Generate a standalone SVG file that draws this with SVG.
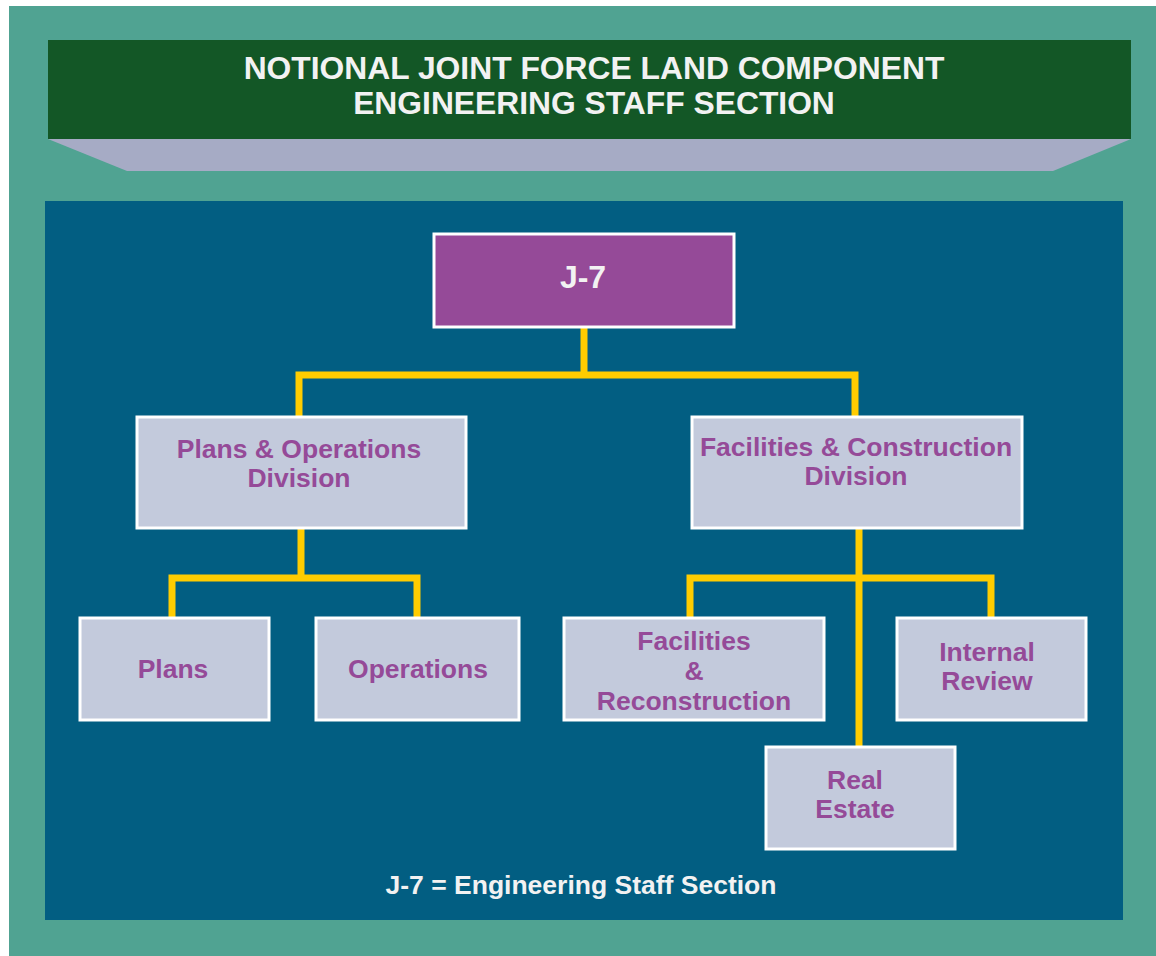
<svg xmlns="http://www.w3.org/2000/svg" width="1156" height="956" viewBox="0 0 1156 956">
<style>
.box{fill:#C3CADC;stroke:#FFFFFF;stroke-width:3}
.lbl{font-family:"Liberation Sans",Arial,sans-serif;font-weight:bold;font-size:26.5px;fill:#954A98;text-anchor:middle}
.wt{font-family:"Liberation Sans",Arial,sans-serif;font-weight:bold;fill:#F2F2F2;text-anchor:middle}
.con{fill:none;stroke:#FFCC00;stroke-width:7;stroke-linejoin:miter}
</style>
<rect x="0" y="0" width="1156" height="956" fill="#FFFFFF"/>
<rect x="9" y="6" width="1147" height="950" fill="#50A392"/>
<polygon points="48,139 1131,139 1053,171 127,171" fill="#A6ABC5"/>
<rect x="48" y="40" width="1083" height="99" fill="#135726"/>
<text class="wt" x="594" y="79" font-size="31.8">NOTIONAL JOINT FORCE LAND COMPONENT</text>
<text class="wt" x="594" y="114" font-size="31.8">ENGINEERING STAFF SECTION</text>
<rect x="45" y="201" width="1078" height="719" fill="#025E82"/>
<g id="connectors">
<path class="con" d="M584,328 V375 M299,416 V375 H855 V416"/>
<path class="con" d="M301,528 V578 M172,617 V578 H417 V617"/>
<path class="con" d="M859,528 V747 M690,617 V578 H991 V617"/>
</g>
<g id="j7">
<rect x="434" y="234" width="300" height="93" fill="#954A98" stroke="#FFFFFF" stroke-width="3"/>
<text class="wt" x="583" y="288" font-size="32">J-7</text>
</g>
<g id="plans-ops">
<rect class="box" x="137" y="417" width="329" height="111"/>
<text class="lbl" x="299" y="458">Plans &amp; Operations</text>
<text class="lbl" x="299" y="487">Division</text>
</g>
<g id="fac-con">
<rect class="box" x="692" y="417" width="330" height="111"/>
<text class="lbl" x="856" y="456">Facilities &amp; Construction</text>
<text class="lbl" x="856" y="485">Division</text>
</g>
<g id="plans">
<rect class="box" x="80" y="618" width="189" height="102"/>
<text class="lbl" x="173" y="678">Plans</text>
</g>
<g id="operations">
<rect class="box" x="316" y="618" width="203" height="102"/>
<text class="lbl" x="418" y="678">Operations</text>
</g>
<g id="fac-rec">
<rect class="box" x="564" y="618" width="260" height="102"/>
<text class="lbl" x="694" y="650">Facilities</text>
<text class="lbl" x="694" y="680">&amp;</text>
<text class="lbl" x="694" y="710">Reconstruction</text>
</g>
<g id="internal-review">
<rect class="box" x="897" y="618" width="189" height="102"/>
<text class="lbl" x="987" y="661">Internal</text>
<text class="lbl" x="987" y="690">Review</text>
</g>
<g id="real-estate">
<rect class="box" x="766" y="747" width="189" height="102"/>
<text class="lbl" x="855" y="789">Real</text>
<text class="lbl" x="855" y="818">Estate</text>
</g>
<text class="wt" x="581" y="894" font-size="26.5" fill="#FFFFFF">J-7 = Engineering Staff Section</text>
</svg>
